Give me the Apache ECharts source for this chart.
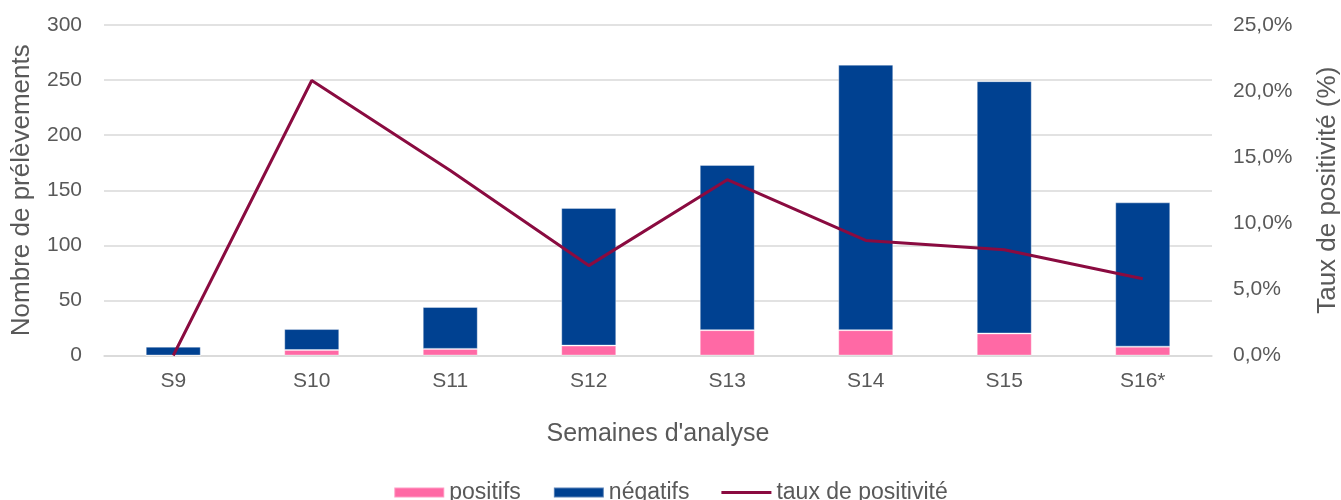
<!DOCTYPE html>
<html>
<head>
<meta charset="utf-8">
<script src="https://cdn.jsdelivr.net/npm/echarts@6/dist/echarts.min.js"></script>
<style>html,body{margin:0;padding:0;background:#fff}#c{width:1341px;height:500px}</style>
</head>
<body>
<div id="c"></div>
<script>
const categories = ['S9','S10','S11','S12','S13','S14','S15','S16*'];
const positifs = [0, 5, 6, 9, 23, 23, 20, 8];
const negatifs = [8, 19, 38, 125, 150, 241, 229, 131];
const tauxPositivite = [0.0, 20.8, 14.0, 6.8, 13.3, 8.7, 8.0, 5.8]; // percent
const leftTicks = {min: 0, max: 300, interval: 50};
const rightTicks = {min: 0, max: 25, interval: 5};

const txt = '#595959';
const font = 'Liberation Sans';
const chart = echarts.init(document.getElementById('c'), null, {renderer: 'canvas'});
chart.setOption({
  animation: false,
  textStyle: {fontFamily: font},
  grid: {left: 104, right: 129, top: 25, bottom: 144.5, containLabel: false, outerBoundsMode: 'none'},
  legend: {
    top: 476, left: 'center',
    itemWidth: 50, itemHeight: 10, itemGap: 32,
    textStyle: {color: txt, fontSize: 23, fontFamily: font, padding: [0, 0, 0, 0]},
    data: [
      {name: 'positifs', icon: 'rect'},
      {name: 'négatifs', icon: 'rect'},
      {name: 'taux de positivité', icon: 'path://M0,0 L100,0 L100,6 L0,6 Z'}
    ]
  },
  xAxis: {
    type: 'category', data: categories,
    name: "Semaines d'analyse", nameLocation: 'middle', nameGap: 66,
    nameTextStyle: {color: txt, fontSize: 25, fontFamily: font},
    axisLine: {lineStyle: {color: '#d9d9d9', width: 1.5}},
    axisTick: {show: false},
    axisLabel: {color: txt, fontSize: 21, margin: 15, fontFamily: font}
  },
  yAxis: [
    {
      type: 'value', min: leftTicks.min, max: leftTicks.max, interval: leftTicks.interval,
      name: 'Nombre de prélèvements', nameLocation: 'middle', nameGap: 69, nameRotate: 90,
      nameTextStyle: {color: txt, fontSize: 26, fontFamily: font},
      axisLine: {show: false}, axisTick: {show: false},
      axisLabel: {color: txt, fontSize: 21, margin: 22, fontFamily: font},
      splitLine: {lineStyle: {color: '#d9d9d9', width: 1.5}}
    },
    {
      type: 'value', min: rightTicks.min, max: rightTicks.max, interval: rightTicks.interval,
      position: 'right',
      name: 'Taux de positivité (%)', nameLocation: 'middle', nameGap: 103, nameRotate: 90,
      nameTextStyle: {color: txt, fontSize: 26, fontFamily: font},
      axisLine: {show: false}, axisTick: {show: false},
      axisLabel: {color: txt, fontSize: 21, margin: 21, fontFamily: font,
        formatter: v => v.toFixed(1).replace('.', ',') + '%'},
      splitLine: {show: false}
    }
  ],
  series: [
    {
      name: 'positifs', type: 'bar', stack: 'total', data: positifs, barWidth: 55,
      itemStyle: {color: '#FF69A5', borderColor: 'rgba(255,255,255,0.35)', borderWidth: 1}
    },
    {
      name: 'négatifs', type: 'bar', stack: 'total', data: negatifs, barWidth: 55,
      itemStyle: {color: '#004191', borderColor: 'rgba(255,255,255,0.35)', borderWidth: 1}
    },
    {
      name: 'taux de positivité', type: 'line', yAxisIndex: 1, data: tauxPositivite,
      symbol: 'none', showSymbol: false,
      lineStyle: {color: '#8A0B40', width: 3},
      itemStyle: {color: '#8A0B40'}
    }
  ]
});
</script>
</body>
</html>
